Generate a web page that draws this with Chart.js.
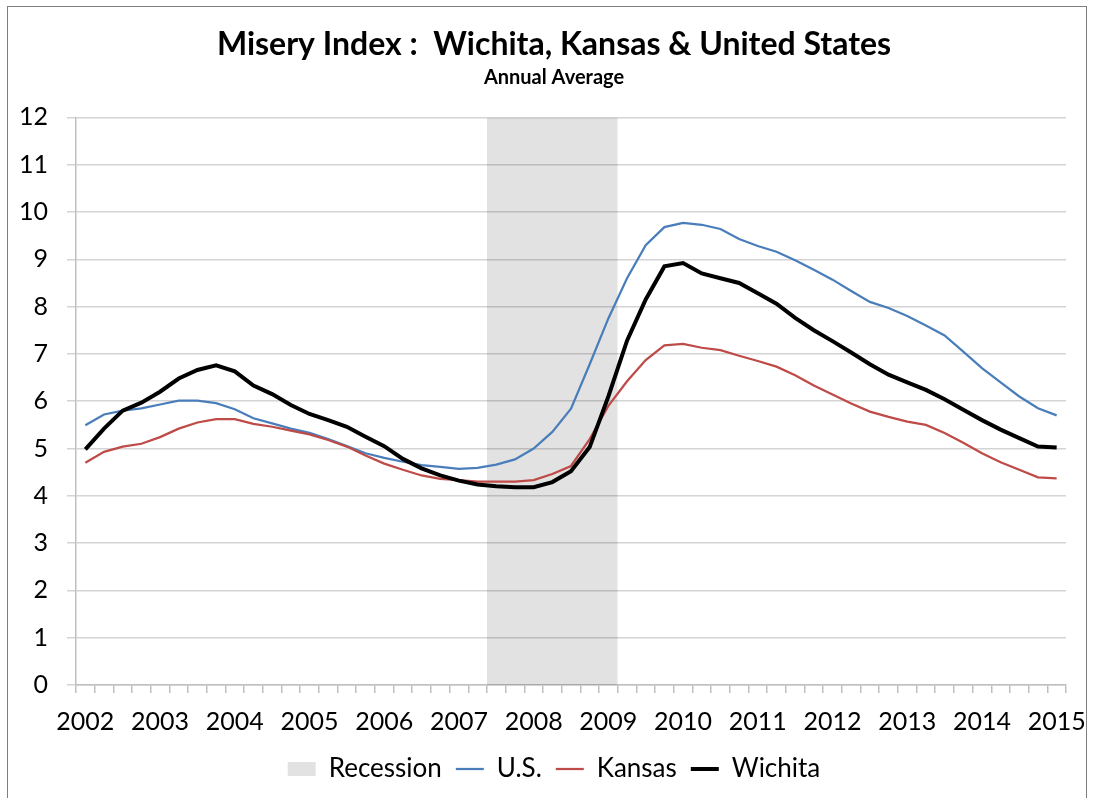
<!DOCTYPE html>
<html>
<head>
<meta charset="utf-8">
<script src="https://cdn.jsdelivr.net/npm/chart.js@4.4.1/dist/chart.umd.min.js"></script>
<style>
  html, body { margin: 0; padding: 0; background: #fff; }
  #wrap { position: relative; width: 1094px; height: 798px; }
  #frame { position: absolute; left: 7px; top: 6px; width: 1080px; height: 800px;
           border: 1.5px solid #7f7f7f; border-bottom: none; box-sizing: border-box; pointer-events: none; }
  canvas { position: absolute; left: 0; top: 0; }
</style>
</head>
<body>
<div id="wrap">
  <canvas id="c" width="1094" height="798"></canvas>
  <div id="frame"></div>
</div>
<script>
// Quarterly categories 2002Q1 .. 2015Q1
const years = [2002,2003,2004,2005,2006,2007,2008,2009,2010,2011,2012,2013,2014,2015];
const quarters = [];
for (const y of years) { for (let q = 1; q <= 4; q++) { if (y === 2015 && q > 1) break; quarters.push(y + ' Q' + q); } }

const usValues = [5.49,5.72,5.80,5.85,5.93,6.01,6.01,5.96,5.83,5.64,5.53,5.42,5.33,5.20,5.05,4.90,4.80,4.72,4.65,4.61,4.57,4.59,4.66,4.77,5.00,5.35,5.84,6.78,7.75,8.60,9.30,9.68,9.77,9.73,9.64,9.43,9.28,9.16,8.98,8.78,8.57,8.33,8.10,7.97,7.80,7.60,7.39,7.05,6.70,6.40,6.10,5.85,5.70];
const kansasValues = [4.70,4.93,5.04,5.10,5.24,5.42,5.55,5.62,5.62,5.52,5.46,5.38,5.30,5.18,5.04,4.85,4.68,4.55,4.43,4.36,4.33,4.30,4.30,4.30,4.33,4.46,4.63,5.20,5.90,6.42,6.87,7.18,7.21,7.13,7.08,6.96,6.85,6.73,6.55,6.33,6.14,5.95,5.78,5.67,5.57,5.50,5.33,5.12,4.90,4.71,4.55,4.39,4.37];
const wichitaValues = [4.98,5.42,5.80,5.97,6.20,6.48,6.66,6.76,6.63,6.33,6.15,5.92,5.73,5.60,5.46,5.25,5.05,4.78,4.58,4.43,4.32,4.24,4.20,4.18,4.18,4.29,4.52,5.03,6.10,7.28,8.15,8.85,8.92,8.70,8.60,8.50,8.28,8.06,7.76,7.50,7.27,7.03,6.78,6.56,6.40,6.24,6.04,5.82,5.60,5.40,5.22,5.04,5.02];
// Recession shading: first and last shaded quarter, shaded up to the axis max
const recessionStart = '2007 Q3';
const recessionEnd = '2009 Q1';
const recessionHeight = 12;
const yTicks = [0,1,2,3,4,5,6,7,8,9,10,11,12];

const rs = quarters.indexOf(recessionStart), re = quarters.indexOf(recessionEnd);
const recessionData = [{ x: rs - 0.5, y: recessionHeight }, { x: re + 0.5, y: recessionHeight }];

const FONT = 'Lato, "Open Sans", sans-serif';

// Centre title / subtitle / legend over the whole figure (as in the original) rather than over the canvas minus padding
const shiftHeader = {
  id: 'shiftHeader',
  afterLayout(chart) {
    const dx = 21;
    for (const b of [chart.titleBlock, chart.legend]) { if (b) { b.left += dx; b.right += dx; } }
    for (const b of chart.boxes) { if (b && b.options && b.options.text === 'Annual Average') { b.left += dx; b.right += dx; } }
  }
};

new Chart(document.getElementById('c'), {
  type: 'line',
  data: {
    labels: quarters,
    datasets: [
      { label: 'Recession', data: recessionData, xAxisID: 'xr', fill: 'origin',
        backgroundColor: 'rgba(0,0,0,0.115)', borderColor: 'rgba(0,0,0,0)', borderWidth: 0,
        pointRadius: 0, order: 10, pointStyle: 'rect' },
      { label: 'U.S.', data: usValues, borderColor: '#4a7ebb', backgroundColor: '#4a7ebb', borderWidth: 2.25,
        pointRadius: 0, tension: 0, order: 2, pointStyle: 'line' },
      { label: 'Kansas', data: kansasValues, borderColor: '#be4b48', backgroundColor: '#be4b48', borderWidth: 2.25,
        pointRadius: 0, tension: 0, order: 1, pointStyle: 'line' },
      { label: 'Wichita', data: wichitaValues, borderColor: '#000000', backgroundColor: '#000000', borderWidth: 4,
        pointRadius: 0, tension: 0, order: 0, pointStyle: 'line' }
    ]
  },
  plugins: [shiftHeader],
  options: {
    responsive: false,
    animation: false,
    layout: { padding: { left: 0, right: 28, top: 0, bottom: 6 } },
    plugins: {
      title: { display: true, text: 'Misery Index :  Wichita, Kansas & United States', color: '#000',
        font: { family: FONT, size: 32, weight: 'bold' }, padding: { top: 25, bottom: 2 } },
      subtitle: { display: true, text: 'Annual Average', color: '#000',
        font: { family: FONT, size: 20, weight: 'bold' }, padding: { top: 0, bottom: 28 } },
      legend: { position: 'bottom', labels: { usePointStyle: true, pointStyleWidth: 28, boxHeight: 14,
        color: '#000', font: { family: FONT, size: 26 }, padding: 14,
        sort: (a, b) => a.datasetIndex - b.datasetIndex } },
      tooltip: { enabled: false }
    },
    scales: {
      x: {
        offset: true,
        grid: { offset: true, drawOnChartArea: false, tickLength: 8, color: '#bfbfbf', lineWidth: 1.5 },
        border: { color: '#bfbfbf', width: 1.5 },
        ticks: { autoSkip: false, maxRotation: 0, minRotation: 0, padding: 14, color: '#000',
          font: { family: FONT, size: 25 },
          callback: function(v, i) { const l = quarters[i]; return l.endsWith('Q1') ? l.slice(0, 4) : ''; } },
        afterFit: s => { s.height = 57; s.paddingLeft = 0; s.paddingRight = 0; }
      },
      xr: { type: 'linear', display: false, min: -0.5, max: quarters.length - 0.5 },
      y: {
        min: 0, max: 12,
        afterBuildTicks: s => { s.ticks = yTicks.map(v => ({ value: v })); },
        grid: { color: '#d4d4d4', lineWidth: 1.5, tickLength: 9 },
        border: { color: '#bfbfbf', width: 1.5 },
        ticks: { padding: 19, color: '#000', font: { family: FONT, size: 25 } },
        afterFit: s => { s.width = 76; }
      }
    }
  }
});
</script>
</body>
</html>
